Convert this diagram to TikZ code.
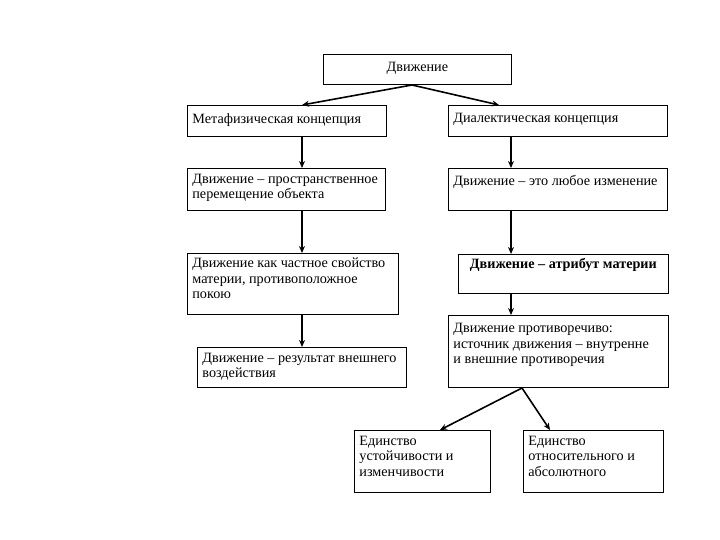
\documentclass[tikz,border=0pt]{standalone}
\usepackage{fontspec}
\setmainfont{Liberation Serif}
\usetikzlibrary{arrows.meta}
\newcommand\boxtext[4]{\parbox[t][#2pt][t]{#1pt}{\vspace*{#3pt}\raggedright #4}}
\newcommand\boxtextc[4]{\parbox[t][#2pt][t]{#1pt}{\vspace*{#3pt}\centering #4}}
\begin{document}
\begin{tikzpicture}[x=1pt,y=-1pt,
  box/.style={draw, line width=0.8pt, anchor=north west, inner xsep=5pt, inner ysep=4pt,
    font=\fontsize{14.2}{15.5}\selectfont},
  arr/.style={line width=1.6pt, -{Stealth[length=7pt,width=6pt]}}]
\useasboundingbox[fill=white] (0,0) rectangle (720,540);
\node[box] (top) at (323,54) {\boxtextc{178}{22.2}{4}{Движение}};
\node[box] (meta) at (187,105) {\boxtext{189}{23.2}{4}{Метафизическая концепция}};
\node[box] (dial) at (448,105) {\boxtext{209}{23.2}{4}{Диалектическая концепция}};
\node[box] (prost) at (187,168) {\boxtext{188}{34.2}{1.5}{\mbox{Движение – пространственное}\\ перемещение объекта}};
\node[box] (any) at (448,168) {\boxtext{209}{34.2}{3}{\mbox{Движение – это любое изменение}}};
\node[box] (part) at (187,253) {\boxtext{201}{53.2}{0.5}{\mbox{Движение как частное свойство}\\ материи, противоположное\\ покою}};
\node[box] (attr) at (458,254) {\boxtextc{200}{31.2}{0}{\mbox{\textbf{Движение – атрибут материи}}}};
\node[box] (result) at (197,347) {\boxtext{199}{32.2}{1.5}{\mbox{Движение – результат внешнего}\\ воздействия}};
\node[box] (contr) at (448,315) {\boxtext{210}{64.2}{4}{Движение противоречиво:\\ \mbox{источник движения – внутренне}\\ и внешние противоречия}};
\node[box] (unA) at (354,430) {\boxtext{126}{54.2}{1.5}{Единство\\ устойчивости и\\ изменчивости}};
\node[box] (unB) at (523,430) {\boxtext{130}{54.2}{1.5}{Единство\\ относительного и\\ абсолютного}};
\coordinate (colL) at (302,0);
\coordinate (colR) at (511,0);
\coordinate (topS) at (412,0);
\coordinate (dialIn) at (499,0);
\coordinate (contrS) at (522,0);
\coordinate (unAin) at (440,0);
\coordinate (unBin) at (550,0);
\draw[arr] (top.south -| topS) -- (meta.north -| colL);
\draw[arr] (top.south -| topS) -- (dial.north -| dialIn);
\draw[arr] (meta.south -| colL) -- (prost.north -| colL);
\draw[arr] (prost.south -| colL) -- (part.north -| colL);
\draw[arr] (part.south -| colL) -- (result.north -| colL);
\draw[arr] (dial.south -| colR) -- (any.north -| colR);
\draw[arr] (any.south -| colR) -- (attr.north -| colR);
\draw[arr] (attr.south -| colR) -- (contr.north -| colR);
\draw[arr] (contr.south -| contrS) -- (unA.north -| unAin);
\draw[arr] (contr.south -| contrS) -- (unB.north -| unBin);
\end{tikzpicture}
\end{document}
